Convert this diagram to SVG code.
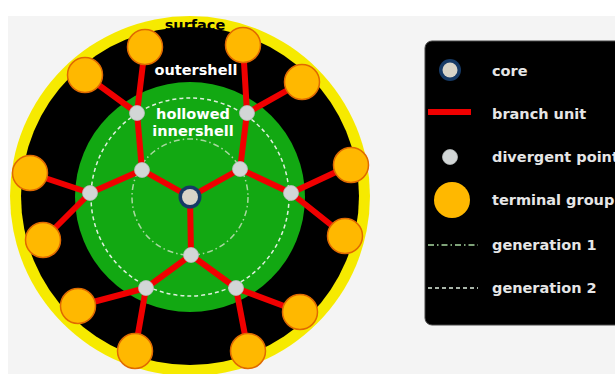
<svg xmlns="http://www.w3.org/2000/svg" width="615" height="374" viewBox="0 0 615 374">
<style>
.lbl{font-family:"DejaVu Sans","Verdana",sans-serif;font-weight:bold;font-size:14.5px}
.w{fill:#ffffff}
.lg{fill:#e6e6e6}
.br{stroke:#f00000;stroke-width:6;stroke-linecap:round;fill:none}
.dp{fill:#d2d6d6;stroke:#b8bcbc;stroke-width:0.8}
.tg{fill:#ffb800;stroke:#e06a00;stroke-width:1.5}
.g1{fill:none;stroke:#a8d8a0;stroke-width:1.5;stroke-dasharray:6 3 1.5 3}
.g2{fill:none;stroke:#dff0df;stroke-width:1.5;stroke-dasharray:4 3}
</style>
<rect x="0" y="0" width="615" height="374" fill="#ffffff"/>
<rect x="8" y="16" width="607" height="358" fill="#f4f4f4"/>
<g id="shells">
<circle cx="190" cy="196" r="180" fill="#f6ea00"/>
<circle cx="190" cy="196" r="169" fill="#000000"/>
<circle cx="190" cy="197" r="115" fill="#12a812"/>
<circle cx="190" cy="197" r="58" class="g1"/>
<circle cx="190" cy="197" r="99" class="g2"/>
</g>
<g id="connectors">
<line class="br" x1="190" y1="197" x2="142" y2="170"/>
<line class="br" x1="190" y1="197" x2="240" y2="169"/>
<line class="br" x1="190" y1="197" x2="191" y2="255"/>
<line class="br" x1="142" y1="170" x2="137" y2="113"/>
<line class="br" x1="142" y1="170" x2="90" y2="193"/>
<line class="br" x1="240" y1="169" x2="247" y2="113"/>
<line class="br" x1="240" y1="169" x2="291" y2="193"/>
<line class="br" x1="191" y1="255" x2="146" y2="288"/>
<line class="br" x1="191" y1="255" x2="236" y2="288"/>
<line class="br" x1="137" y1="113" x2="145" y2="47"/>
<line class="br" x1="137" y1="113" x2="85" y2="75"/>
<line class="br" x1="247" y1="113" x2="243" y2="45"/>
<line class="br" x1="247" y1="113" x2="302" y2="82"/>
<line class="br" x1="90" y1="193" x2="30" y2="173"/>
<line class="br" x1="90" y1="193" x2="43" y2="240"/>
<line class="br" x1="291" y1="193" x2="351" y2="165"/>
<line class="br" x1="291" y1="193" x2="345" y2="236"/>
<line class="br" x1="146" y1="288" x2="78" y2="306"/>
<line class="br" x1="146" y1="288" x2="135" y2="351"/>
<line class="br" x1="236" y1="288" x2="248" y2="351"/>
<line class="br" x1="236" y1="288" x2="300" y2="312"/>
</g>
<g id="core"><circle cx="190" cy="197" r="11.5" fill="#163a66"/><circle cx="190" cy="197" r="8" fill="#d8d4c8"/></g>
<g id="divergent-points">
<circle class="dp" cx="142" cy="170" r="7.5"/>
<circle class="dp" cx="240" cy="169" r="7.5"/>
<circle class="dp" cx="191" cy="255" r="7.5"/>
<circle class="dp" cx="137" cy="113" r="7.5"/>
<circle class="dp" cx="247" cy="113" r="7.5"/>
<circle class="dp" cx="90" cy="193" r="7.5"/>
<circle class="dp" cx="291" cy="193" r="7.5"/>
<circle class="dp" cx="146" cy="288" r="7.5"/>
<circle class="dp" cx="236" cy="288" r="7.5"/>
</g>
<g id="terminal-groups">
<circle class="tg" cx="145" cy="47" r="17.5"/>
<circle class="tg" cx="85" cy="75" r="17.5"/>
<circle class="tg" cx="243" cy="45" r="17.5"/>
<circle class="tg" cx="302" cy="82" r="17.5"/>
<circle class="tg" cx="30" cy="173" r="17.5"/>
<circle class="tg" cx="43" cy="240" r="17.5"/>
<circle class="tg" cx="351" cy="165" r="17.5"/>
<circle class="tg" cx="345" cy="236" r="17.5"/>
<circle class="tg" cx="78" cy="306" r="17.5"/>
<circle class="tg" cx="135" cy="351" r="17.5"/>
<circle class="tg" cx="248" cy="351" r="17.5"/>
<circle class="tg" cx="300" cy="312" r="17.5"/>
</g>
<g id="labels">
<text class="lbl" x="195" y="30" text-anchor="middle" fill="#000000">surface</text>
<text class="lbl w" x="196" y="75" text-anchor="middle">outershell</text>
<text class="lbl w" x="193" y="119" text-anchor="middle">hollowed</text>
<text class="lbl w" x="193" y="136" text-anchor="middle">innershell</text>
</g>
<g id="legend">
<rect x="425" y="41" width="200" height="284" rx="7" fill="#000000" stroke="#444" stroke-width="1"/>
<circle cx="450" cy="70" r="11" fill="#163a66"/><circle cx="450" cy="70" r="7.5" fill="#d8d4c8"/>
<text class="lbl lg" x="492" y="76">core</text>
<line x1="428" y1="112" x2="471" y2="112" stroke="#f00000" stroke-width="6"/>
<text class="lbl lg" x="492" y="119">branch unit</text>
<circle class="dp" cx="450" cy="157" r="7.5"/>
<text class="lbl lg" x="492" y="162">divergent point</text>
<circle cx="452" cy="200" r="18" fill="#ffb800"/>
<text class="lbl lg" x="492" y="205">terminal group</text>
<line x1="428" y1="245" x2="478" y2="245" class="g1"/>
<text class="lbl lg" x="492" y="250">generation 1</text>
<line x1="428" y1="288" x2="478" y2="288" class="g2"/>
<text class="lbl lg" x="492" y="293">generation 2</text>
</g>
</svg>
